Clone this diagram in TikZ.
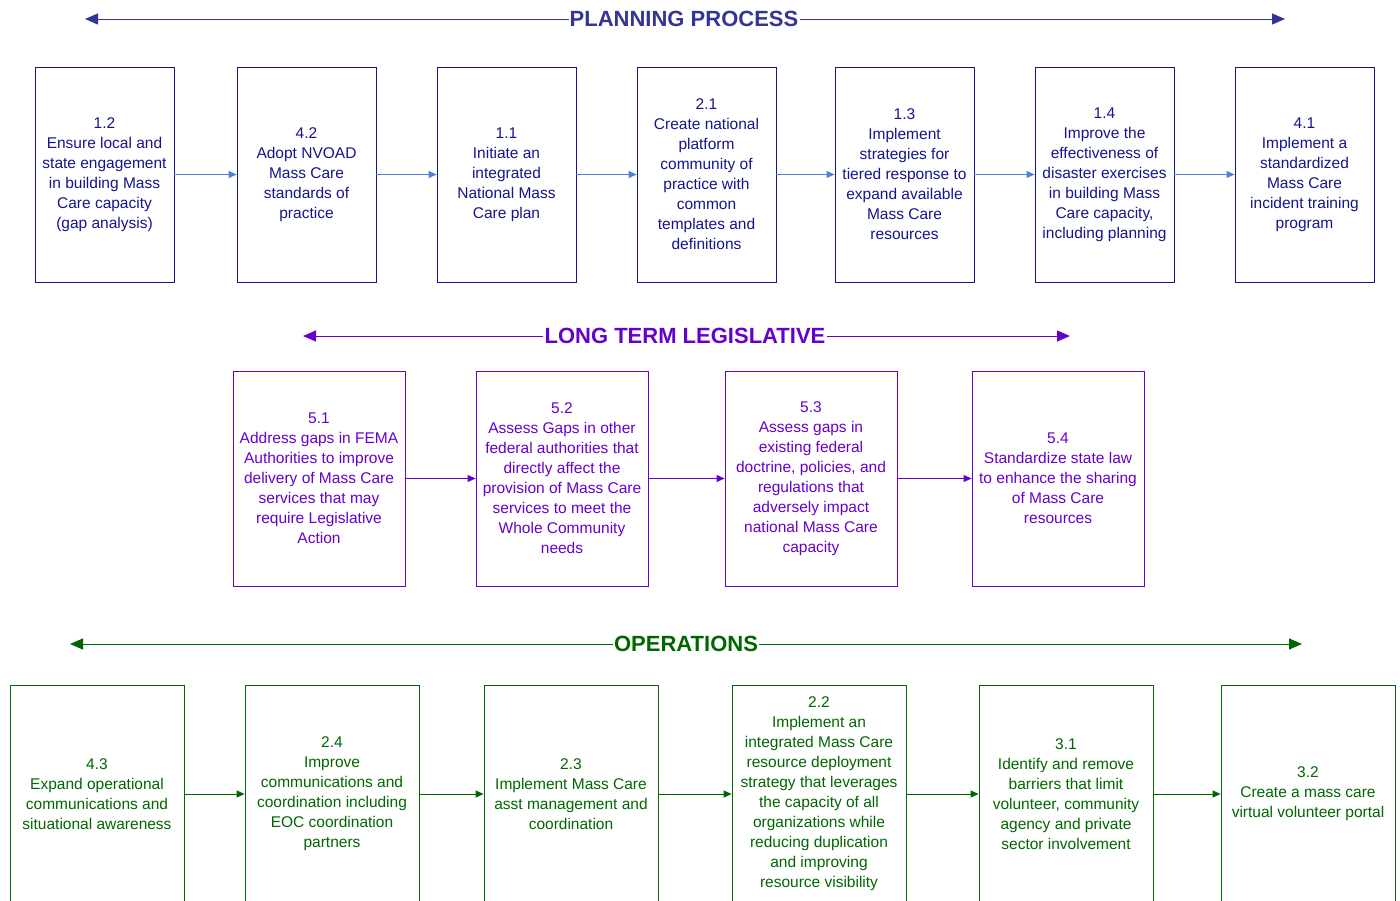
\documentclass[tikz,border=0pt]{standalone}
\usepackage{fontspec}
\setmainfont{Liberation Sans}
\usetikzlibrary{arrows.meta}
\definecolor{azulplan}{HTML}{14148C}
\definecolor{azultit}{HTML}{333399}
\definecolor{azulseta}{HTML}{4F81D0}
\definecolor{roxo}{HTML}{6600CC}
\definecolor{verde}{HTML}{006600}
\begin{document}
\begin{tikzpicture}[x=1pt, y=-1pt,
            caixa/.style={shape=rectangle, draw, line width=0.8pt, inner sep=1pt, align=center,
                font=\fontsize{15.5}{20}\selectfont},
            plano/.style={caixa, draw=azulplan, text=azulplan, minimum width=139pt, minimum height=215pt},
            legis/.style={caixa, draw=roxo, text=roxo, minimum width=172pt, minimum height=215pt},
            oper/.style={caixa, draw=verde, text=verde, minimum width=174pt, minimum height=218pt},
            titulo/.style={inner sep=1pt, font=\fontsize{22}{24}\selectfont\bfseries},
            cab/.style={line width=1pt, -{Triangle[length=13pt, width=11pt]}},
            seta/.style={line width=0.8pt, -{Triangle[length=8pt, width=7pt]}},
        ]
        \useasboundingbox (0, 0) rectangle (1400, 900);
        \clip (0, 0) rectangle (1400, 900);

        % planning process
        \node[titulo, text=azultit] (tp) at (684, 19) {PLANNING PROCESS};
        \coordinate (tpe) at (85, 19);
        \coordinate (tpd) at (1285, 19);
        \draw[cab, azultit] (tp) -- (tpe);
        \draw[cab, azultit] (tp) -- (tpd);

        \node[plano] (p12) at (104.5, 174.5) {1.2\\Ensure local and\\state engagement\\in building Mass\\Care capacity\\(gap analysis)};
        \node[plano] (p42) at (306.5, 174.5) {4.2\\Adopt NVOAD\\Mass Care\\standards of\\practice};
        \node[plano] (p11) at (506.5, 174.5) {1.1\\Initiate an\\integrated\\National Mass\\Care plan};
        \node[plano] (p21) at (706.5, 174.5) {2.1\\Create national\\platform\\community of\\practice with\\common\\templates and\\definitions};
        \node[plano] (p13) at (904.5, 174.5) {1.3\\Implement\\strategies for\\tiered response to\\expand available\\Mass Care\\resources};
        \node[plano] (p14) at (1104.5, 174.5) {1.4\\Improve the\\effectiveness of\\disaster exercises\\in building Mass\\Care capacity,\\including planning};
        \node[plano] (p41) at (1304.5, 174.5) {4.1\\Implement a\\standardized\\Mass Care\\incident training\\program};

        \draw[seta, azulseta] (p12) -- (p42);
        \draw[seta, azulseta] (p42) -- (p11);
        \draw[seta, azulseta] (p11) -- (p21);
        \draw[seta, azulseta] (p21) -- (p13);
        \draw[seta, azulseta] (p13) -- (p14);
        \draw[seta, azulseta] (p14) -- (p41);

        % long term legislative
        \node[titulo, text=roxo] (tl) at (685, 336) {LONG TERM LEGISLATIVE};
        \coordinate (tle) at (303, 336);
        \coordinate (tld) at (1070, 336);
        \draw[cab, roxo] (tl) -- (tle);
        \draw[cab, roxo] (tl) -- (tld);

        \node[legis] (l51) at (319, 478.5) {5.1\\Address gaps in FEMA\\Authorities to improve\\delivery of Mass Care\\services that may\\require Legislative\\Action};
        \node[legis] (l52) at (562, 478.5) {5.2\\Assess Gaps in other\\federal authorities that\\directly affect the\\provision of Mass Care\\services to meet the\\Whole Community\\needs};
        \node[legis] (l53) at (811, 478.5) {5.3\\Assess gaps in\\existing federal\\doctrine, policies, and\\regulations that\\adversely impact\\national Mass Care\\capacity};
        \node[legis] (l54) at (1058, 478.5) {5.4\\Standardize state law\\to enhance the sharing\\of Mass Care\\resources};

        \draw[seta, roxo] (l51) -- (l52);
        \draw[seta, roxo] (l52) -- (l53);
        \draw[seta, roxo] (l53) -- (l54);

        % operations
        \node[titulo, text=verde] (to) at (686, 644) {OPERATIONS};
        \coordinate (toe) at (70, 644);
        \coordinate (tod) at (1302, 644);
        \draw[cab, verde] (to) -- (toe);
        \draw[cab, verde] (to) -- (tod);

        \node[oper] (o43) at (97, 794) {4.3\\Expand operational\\communications and\\situational awareness};
        \node[oper] (o24) at (332, 794) {2.4\\Improve\\communications and\\coordination including\\EOC coordination\\partners};
        \node[oper] (o23) at (571, 794) {2.3\\Implement Mass Care\\asst management and\\coordination};
        \node[oper] (o22) at (819, 794) {2.2\\Implement an\\integrated Mass Care\\resource deployment\\strategy that leverages\\the capacity of all\\organizations while\\reducing duplication\\and improving\\resource visibility};
        \node[oper] (o31) at (1066, 794) {3.1\\Identify and remove\\barriers that limit\\volunteer, community\\agency and private\\sector involvement};
        \node[oper] (o32) at (1308, 794) {3.2\\Create a mass care\\virtual volunteer portal};

        \draw[seta, verde] (o43) -- (o24);
        \draw[seta, verde] (o24) -- (o23);
        \draw[seta, verde] (o23) -- (o22);
        \draw[seta, verde] (o22) -- (o31);
        \draw[seta, verde] (o31) -- (o32);

    \end{tikzpicture}
\end{document}
